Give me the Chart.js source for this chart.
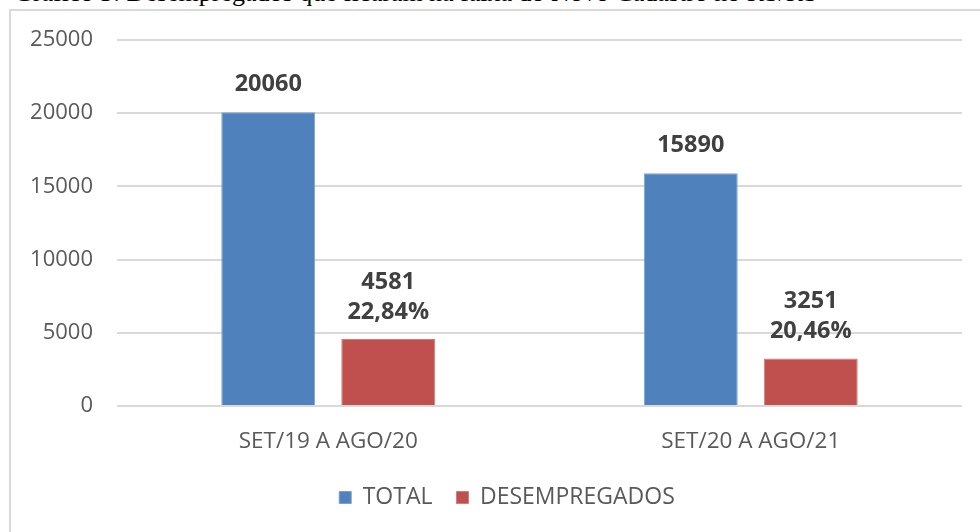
<!DOCTYPE html>
<html>
<head>
<meta charset="utf-8">
<script src="https://cdn.jsdelivr.net/npm/chart.js@4.4.1/dist/chart.umd.min.js"></script>
<style>
    html, body { margin: 0; padding: 0; background: #fff; }
    body { width: 980px; height: 532px; position: relative; overflow: hidden; }
    #caption {
        position: absolute; left: 14px; top: -22px; white-space: nowrap;
        font-family: "Liberation Serif", serif; font-size: 26px; color: #000;
    }
    #frame {
        position: absolute; left: 9px; top: 9px; width: 1000px; height: 600px;
        border: 2px solid #d9d9d9; box-sizing: border-box;
    }
    #wrap { position: absolute; left: 0; top: 0; width: 980px; height: 532px; }
</style>
</head>
<body>
<div id="caption">Gráfico 3: Desempregados que ficaram na faixa do Novo Cadastro no RS/RS</div>
<div id="frame"></div>
<div id="wrap"><canvas id="chart" width="980" height="532"></canvas></div>
<script>
const periods = ["SET/19 A AGO/20", "SET/20 A AGO/21"];
const totalValues = [20060, 15890];
const desempValues = [4581, 3251];
const desempPct = ["22,84%", "20,46%"];
const yTicks = [0, 5000, 10000, 15000, 20000, 25000];

const FONT = "'Open Sans', sans-serif";

// rotulos de dados em cima das barras
const barLabels = {
    id: "barLabels",
    afterDatasetsDraw(chart) {
        const ctx = chart.ctx;
        ctx.save();
        ctx.font = "bold 23.5px " + FONT;
        ctx.fillStyle = "#404040";
        ctx.textAlign = "center";
        ctx.textBaseline = "middle";
        chart.data.datasets.forEach((ds, di) => {
            const meta = chart.getDatasetMeta(di);
            meta.data.forEach((bar, i) => {
                if (di === 0) {
                    ctx.fillText(String(ds.data[i]), bar.x, bar.y - 28);
                } else {
                    ctx.fillText(String(ds.data[i]), bar.x, bar.y - 57);
                    ctx.fillText(desempPct[i], bar.x, bar.y - 27);
                }
            });
        });
        ctx.restore();
    }
};

// a legenda do original fica um pouco a direita do centro
const legendShift = {
    id: "legendShift",
    afterLayout(chart) {
        chart.legend.left += 26;
        chart.legend.right += 26;
    }
};

new Chart(document.getElementById("chart"), {
    type: "bar",
    data: {
        labels: periods,
        datasets: [
            {
                label: "TOTAL",
                data: totalValues,
                backgroundColor: "#4f81bd",
                borderColor: "#7aa0cf",
                borderWidth: 1,
                barPercentage: 0.783,
                categoryPercentage: 0.568
            },
            {
                label: "DESEMPREGADOS",
                data: desempValues,
                backgroundColor: "#c0504d",
                borderColor: "#d47a78",
                borderWidth: 1,
                barPercentage: 0.783,
                categoryPercentage: 0.568
            }
        ]
    },
    options: {
        responsive: false,
        animation: false,
        devicePixelRatio: 1,
        layout: { padding: { top: 40, right: 18, bottom: 13, left: 0 } },
        scales: {
            x: {
                grid: { display: false },
                border: { display: false },
                ticks: { color: "#595959", font: { family: FONT, size: 22.5 }, padding: 14 },
                afterFit(scale) { scale.height = 56; }
            },
            y: {
                min: 0,
                max: 25000,
                afterBuildTicks(scale) { scale.ticks = yTicks.map(v => ({ value: v })); },
                grid: { color: "#d9d9d9", lineWidth: 2, drawTicks: false },
                border: { display: false },
                ticks: {
                    color: "#595959",
                    font: { family: FONT, size: 22 },
                    padding: 24,
                    callback: v => String(v)
                },
                afterFit(scale) { scale.width = 117; }
            }
        },
        plugins: {
            legend: {
                position: "bottom",
                labels: {
                    color: "#595959",
                    font: { family: FONT, size: 23 },
                    boxWidth: 12,
                    boxHeight: 12,
                    padding: 24
                }
            },
            tooltip: { enabled: false }
        }
    },
    plugins: [barLabels, legendShift]
});
</script>
</body>
</html>
